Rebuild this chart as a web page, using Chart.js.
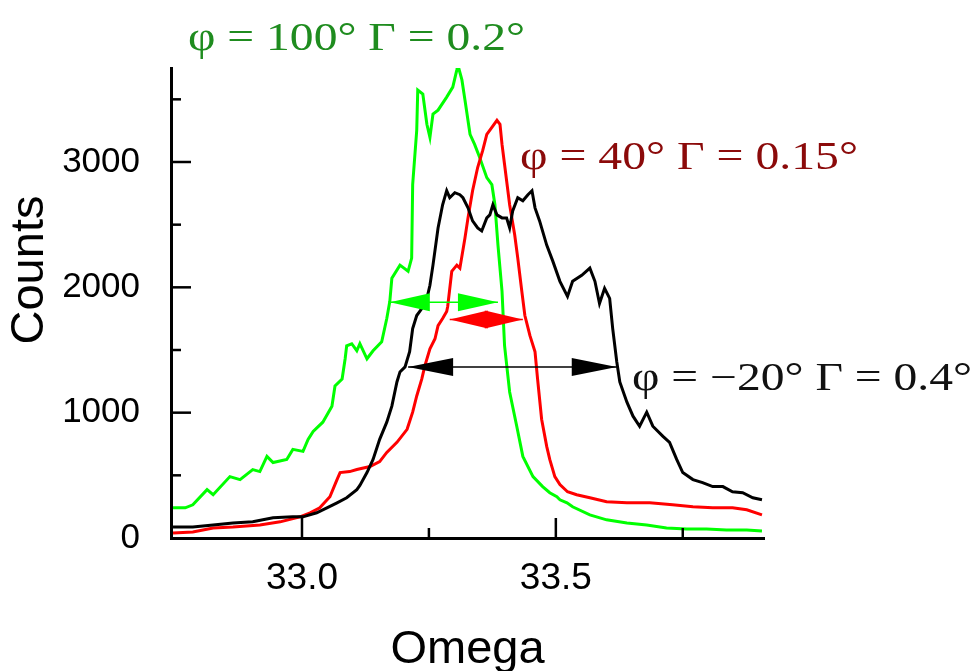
<!DOCTYPE html>
<html>
<head>
<meta charset="utf-8">
<script src="https://cdn.jsdelivr.net/npm/chart.js@4.4.1/dist/chart.umd.min.js"></script>
<style>
  html, body { margin: 0; padding: 0; background: #fff; }
  #wrap { width: 974px; height: 671px; }
</style>
</head>
<body>
<div id="wrap"><canvas id="rocking"></canvas></div>
<script>
// Omega scans (omega in degrees, counts)
const omegaGreen = [32.746, 32.770, 32.785, 32.813, 32.825, 32.858, 32.878, 32.903, 32.917, 32.931, 32.943, 32.970, 32.982, 33.002, 33.012, 33.022, 33.041, 33.059, 33.065, 33.079, 33.085, 33.088, 33.098, 33.108, 33.114, 33.128, 33.140, 33.157, 33.167, 33.173, 33.177, 33.193, 33.209, 33.216, 33.218, 33.226, 33.228, 33.238, 33.246, 33.252, 33.258, 33.268, 33.285, 33.297, 33.305, 33.307, 33.315, 33.321, 33.331, 33.340, 33.350, 33.364, 33.374, 33.380, 33.386, 33.394, 33.399, 33.409, 33.423, 33.435, 33.455, 33.474, 33.488, 33.502, 33.508, 33.522, 33.533, 33.567, 33.600, 33.640, 33.679, 33.718, 33.758, 33.797, 33.836, 33.876, 33.906];
const countsGreen = [241, 241, 265, 386, 345, 490, 466, 546, 530, 651, 602, 627, 707, 691, 787, 851, 924, 1052, 1213, 1269, 1430, 1534, 1550, 1494, 1550, 1430, 1494, 1566, 1751, 1888, 2072, 2177, 2128, 2233, 2819, 3253, 3574, 3542, 3301, 3196, 3382, 3414, 3518, 3598, 3735, 3775, 3655, 3494, 3221, 3140, 3036, 2875, 2819, 2659, 2337, 1968, 1534, 1165, 892, 651, 490, 410, 361, 329, 305, 281, 249, 185, 145, 120, 104, 80, 72, 72, 64, 64, 56];

const omegaRed = [32.746, 32.785, 32.825, 32.864, 32.917, 32.957, 32.996, 33.016, 33.035, 33.055, 33.069, 33.075, 33.094, 33.108, 33.134, 33.153, 33.167, 33.187, 33.207, 33.218, 33.226, 33.236, 33.242, 33.252, 33.262, 33.268, 33.277, 33.285, 33.287, 33.295, 33.305, 33.311, 33.321, 33.327, 33.336, 33.346, 33.356, 33.364, 33.374, 33.384, 33.390, 33.394, 33.399, 33.409, 33.419, 33.425, 33.433, 33.439, 33.449, 33.459, 33.464, 33.472, 33.482, 33.488, 33.498, 33.508, 33.523, 33.541, 33.567, 33.600, 33.640, 33.685, 33.730, 33.770, 33.809, 33.848, 33.876, 33.906];
const countsRed = [40, 48, 80, 88, 104, 129, 169, 201, 241, 329, 466, 522, 530, 546, 570, 610, 683, 763, 867, 1004, 1133, 1269, 1373, 1510, 1590, 1695, 1751, 1807, 1847, 2128, 2177, 2153, 2394, 2554, 2771, 2956, 3092, 3221, 3277, 3333, 3301, 3140, 2980, 2659, 2418, 2233, 1968, 1775, 1614, 1486, 1269, 948, 731, 627, 490, 426, 369, 345, 321, 289, 281, 281, 265, 249, 241, 241, 225, 185];

const omegaBlack = [32.746, 32.785, 32.825, 32.864, 32.903, 32.943, 32.982, 33.002, 33.029, 33.049, 33.069, 33.088, 33.108, 33.114, 33.128, 33.140, 33.153, 33.167, 33.177, 33.187, 33.193, 33.203, 33.212, 33.218, 33.226, 33.236, 33.246, 33.252, 33.258, 33.268, 33.277, 33.285, 33.291, 33.301, 33.311, 33.317, 33.327, 33.336, 33.346, 33.354, 33.364, 33.370, 33.376, 33.384, 33.394, 33.403, 33.409, 33.415, 33.425, 33.435, 33.445, 33.453, 33.459, 33.468, 33.482, 33.494, 33.508, 33.523, 33.533, 33.551, 33.567, 33.577, 33.586, 33.596, 33.606, 33.612, 33.620, 33.626, 33.640, 33.652, 33.665, 33.679, 33.691, 33.711, 33.724, 33.738, 33.750, 33.770, 33.789, 33.809, 33.829, 33.848, 33.868, 33.888, 33.906];
const countsBlack = [88, 88, 104, 120, 129, 161, 169, 169, 201, 241, 281, 321, 386, 420, 522, 627, 787, 924, 1052, 1245, 1325, 1365, 1486, 1671, 1775, 1831, 1912, 2016, 2177, 2474, 2659, 2771, 2715, 2755, 2739, 2715, 2634, 2530, 2474, 2450, 2554, 2578, 2659, 2578, 2554, 2554, 2474, 2610, 2715, 2691, 2739, 2771, 2634, 2530, 2337, 2209, 2048, 1928, 2048, 2096, 2153, 2048, 1871, 1992, 1912, 1671, 1406, 1245, 1084, 972, 892, 1004, 892, 811, 763, 627, 522, 466, 442, 410, 410, 369, 361, 321, 305];

// FWHM arrows (omega from/to, counts level)
const fwhmFrom = [33.173, 33.291, 33.209];
const fwhmTo = [33.386, 33.435, 33.620];
const fwhmLevel = [1880, 1743, 1365];

// tick positions (major ones get a label)
const xTicks = [33.0, 33.25, 33.5, 33.75];
const xTickLabels = ['33.0', '', '33.5', ''];
const yTicks = [0, 500, 1000, 1500, 2000, 2500, 3000, 3500];
const yTickLabels = ['0', '', '1000', '', '2000', '', '3000', ''];

const annotations = ['φ = 100° Γ = 0.2°', 'φ = 40° Γ = 0.15°', 'φ = −20° Γ = 0.4°'];

function pairs(xs, ys) {
    return xs.map((x, i) => ({ x: x, y: ys[i] }));
}

// ticks pointing into the plot, arrows, annotations, axis titles
const decorations = {
    id: 'decorations',
    afterDraw(chart) {
        const { ctx, chartArea, scales } = chart;
        const xs = scales.x, ys = scales.y;
        ctx.save();

        // 1. inward ticks
        ctx.strokeStyle = '#000';
        ctx.lineWidth = 2.5;
        xTicks.forEach((v, i) => {
            const px = xs.getPixelForValue(v);
            const len = xTickLabels[i] ? 20 : 10;
            ctx.beginPath();
            ctx.moveTo(px, chartArea.bottom);
            ctx.lineTo(px, chartArea.bottom - len);
            ctx.stroke();
        });
        yTicks.forEach((v, i) => {
            if (v === 0) return;
            const py = ys.getPixelForValue(v);
            const len = yTickLabels[i] ? 20 : 10;
            ctx.beginPath();
            ctx.moveTo(chartArea.left, py);
            ctx.lineTo(chartArea.left + len, py);
            ctx.stroke();
        });

        // 2. double arrows for the widths
        const colors = ['#00ff00', '#ff0000', '#000000'];
        const heads = [40, 38, 45];
        fwhmFrom.forEach((f, i) => {
            const x1 = xs.getPixelForValue(f);
            const x2 = xs.getPixelForValue(fwhmTo[i]);
            const y = ys.getPixelForValue(fwhmLevel[i]);
            const h = heads[i];
            ctx.strokeStyle = colors[i];
            ctx.fillStyle = colors[i];
            ctx.lineWidth = 1.5;
            ctx.beginPath();
            ctx.moveTo(x1, y);
            ctx.lineTo(x2, y);
            ctx.stroke();
            ctx.beginPath();
            ctx.moveTo(x1, y);
            ctx.lineTo(x1 + h, y - 9);
            ctx.lineTo(x1 + h, y + 9);
            ctx.closePath();
            ctx.fill();
            ctx.beginPath();
            ctx.moveTo(x2, y);
            ctx.lineTo(x2 - h, y - 9);
            ctx.lineTo(x2 - h, y + 9);
            ctx.closePath();
            ctx.fill();
        });

        // 3. text annotations (the original lettering is drawn wide)
        ctx.font = '39px "Liberation Serif", "Times New Roman", serif';
        ctx.textAlign = 'left';
        ctx.textBaseline = 'alphabetic';
        const textColors = ['#1f8c1f', '#8b0a0a', '#111111'];
        const textPos = [[188, 50], [520, 169], [632, 390]];
        const textWidth = [337, 338, 340];
        annotations.forEach((txt, i) => {
            const w = ctx.measureText(txt).width;
            ctx.save();
            ctx.translate(textPos[i][0], textPos[i][1]);
            ctx.scale(textWidth[i] / w, 1);
            ctx.fillStyle = textColors[i];
            ctx.fillText(txt, 0, 0);
            ctx.restore();
        });

        // 4. axis titles
        ctx.fillStyle = '#000';
        ctx.font = '47px "Liberation Sans", Arial, sans-serif';
        ctx.textAlign = 'center';
        ctx.textBaseline = 'middle';
        ctx.fillText('Omega', (chartArea.left + chartArea.right) / 2, 650);
        ctx.translate(30, 270);
        ctx.rotate(-Math.PI / 2);
        ctx.fillText('Counts', 0, 0);
        ctx.restore();
    }
};

new Chart(document.getElementById('rocking'), {
    type: 'line',
    data: {
        datasets: [
            { label: 'phi = -20', data: pairs(omegaBlack, countsBlack), borderColor: '#000000' },
            { label: 'phi = 40', data: pairs(omegaRed, countsRed), borderColor: '#ff0000' },
            { label: 'phi = 100', data: pairs(omegaGreen, countsGreen), borderColor: '#00ff00' }
        ]
    },
    options: {
        responsive: true,
        maintainAspectRatio: false,
        animation: false,
        devicePixelRatio: 1,
        elements: {
            point: { radius: 0 },
            line: { borderWidth: 3, tension: 0, fill: false }
        },
        layout: { padding: { top: 68, right: 210, left: 0, bottom: 0 } },
        plugins: {
            legend: { display: false },
            tooltip: { enabled: false }
        },
        scales: {
            x: {
                type: 'linear',
                min: 32.742,
                max: 33.91,
                afterFit: s => { s.height = 133; },
                afterBuildTicks: s => { s.ticks = xTicks.map(v => ({ value: v })); },
                grid: { display: false, drawTicks: false },
                border: { display: true, color: '#000', width: 3 },
                ticks: {
                    autoSkip: false,
                    maxRotation: 0,
                    padding: 19,
                    color: '#000',
                    font: { family: '"Liberation Sans", Arial, sans-serif', size: 37 },
                    callback: (v, i) => xTickLabels[i]
                }
            },
            y: {
                min: 0,
                max: 3750,
                afterFit: s => { s.width = 171; },
                afterBuildTicks: s => { s.ticks = yTicks.map(v => ({ value: v })); },
                grid: { display: false, drawTicks: false },
                border: { display: true, color: '#000', width: 3 },
                ticks: {
                    autoSkip: false,
                    padding: 31,
                    color: '#000',
                    font: { family: '"Liberation Sans", Arial, sans-serif', size: 35 },
                    callback: (v, i) => yTickLabels[i]
                }
            }
        }
    },
    plugins: [decorations]
});
</script>
</body>
</html>
